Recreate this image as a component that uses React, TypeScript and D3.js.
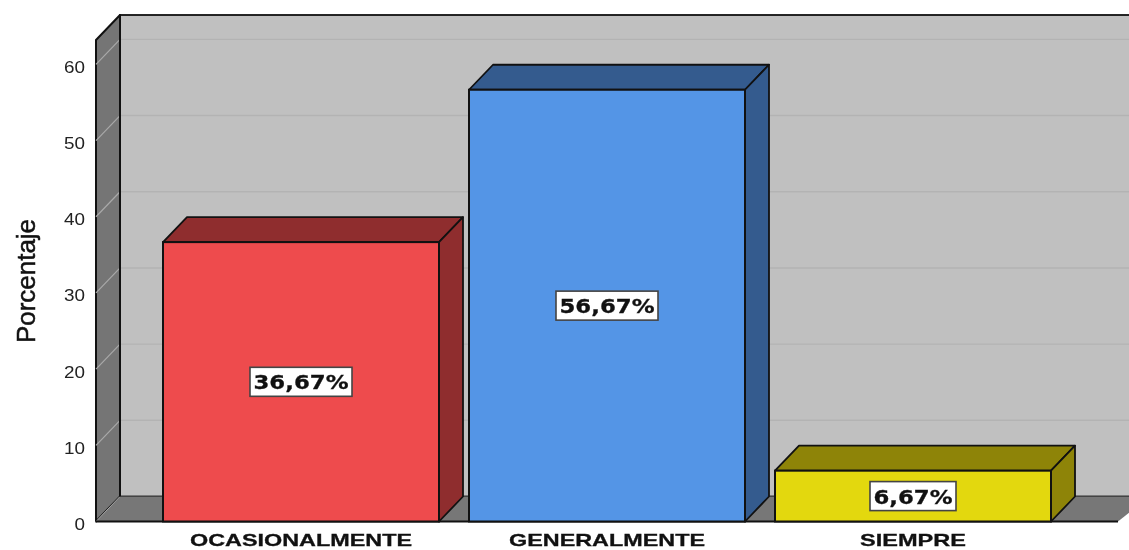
import React from "react";
import * as d3 from "d3";

const categories = ["OCASIONALMENTE", "GENERALMENTE", "SIEMPRE"];
const values = [36.67, 56.67, 6.67];
const valueLabels = ["36,67%", "56,67%", "6,67%"];
const frontColors = ["#ee4b4d", "#5495e6", "#e3d80e"];
const sideColors = ["#8f2d2e", "#345b8e", "#8e8408"];
const yTicks = [0, 10, 20, 30, 40, 50, 60];
const labelWidths = [222, 196, 106];
const boxWidths = [102, 102, 86];

const W = 1129;
const H = 550;
const DX = 24;
const DY = -25;
const left = 96;
const right = 1118;
const y = d3.scaleLinear().domain([0, 63.2]).range([521.5, 40]);
const x = d3.scaleBand<string>().domain(categories).range([163, 1051]).paddingInner(30 / 306).paddingOuter(0);
const stroke = "#111";

export default function App() {
  const y0 = y(0);
  const yTop = y.range()[1];
  return (
    <svg width={W} height={H} viewBox={`0 0 ${W} ${H}`} style={{ position: "absolute", left: 0, top: 0, filter: "blur(0.45px)", background: "#fff" }}>
      <rect x={left + DX} y={yTop + DY} width={W - left - DX + 20} height={y0 - yTop} fill="#c0c0c0" stroke={stroke} strokeWidth={1.8} />
      <polygon points={`${left},${yTop} ${left + DX},${yTop + DY} ${left + DX},${y0 + DY} ${left},${y0}`} fill="#757575" stroke={stroke} strokeWidth={2} strokeLinejoin="round" />
      <polygon points={`${left},${y0} ${left + DX},${y0 + DY} ${W + 20},${y0 + DY} ${right},${y0}`} fill="#777777" />
      <line x1={left} y1={y0} x2={left + DX} y2={y0 + DY} stroke="#a8a8a8" strokeWidth={1} />
      <line x1={left} y1={y0} x2={right} y2={y0} stroke={stroke} strokeWidth={1.8} />
      {yTicks.filter((t) => t > 0).map((t) => (
        <g key={t}>
          <line x1={left + DX} y1={y(t) + DY} x2={W} y2={y(t) + DY} stroke="#b3b3b3" strokeWidth={1.4} />
          <line x1={left} y1={y(t)} x2={left + DX} y2={y(t) + DY} stroke="#a9a9a9" strokeWidth={1.2} />
        </g>
      ))}
      <line x1={left + DX} y1={yTop + DY} x2={left + DX} y2={y0 + DY} stroke={stroke} strokeWidth={2} />
      {yTicks.map((t) => (
        <text key={t} x={85} y={y(t) + 8.5} textAnchor="end" fontFamily="Liberation Sans" fontSize={17} textLength={t === 0 ? 10.5 : 21} lengthAdjust="spacingAndGlyphs" fill="#222">{t}</text>
      ))}
      <text transform="translate(34.5,281) rotate(-90)" textAnchor="middle" fontFamily="Liberation Sans" fontSize={26} textLength={124} lengthAdjust="spacingAndGlyphs" fill="#111" stroke="#111" strokeWidth={0.5}>Porcentaje</text>
      {categories.map((c, i) => {
        const bx = x(c)!;
        const bw = x.bandwidth();
        const by = y(values[i]);
        const cx = bx + bw / 2;
        const my = y(values[i] / 2);
        return (
          <g key={c}>
            <polygon points={`${bx},${by} ${bx + DX},${by + DY} ${bx + bw + DX},${by + DY} ${bx + bw},${by}`} fill={sideColors[i]} stroke={stroke} strokeWidth={1.8} strokeLinejoin="round" />
            <polygon points={`${bx + bw},${by} ${bx + bw + DX},${by + DY} ${bx + bw + DX},${y0 + DY} ${bx + bw},${y0}`} fill={sideColors[i]} stroke={stroke} strokeWidth={1.8} strokeLinejoin="round" />
            <rect x={bx} y={by} width={bw} height={y0 - by} fill={frontColors[i]} stroke={stroke} strokeWidth={2} />
            <rect x={cx - boxWidths[i] / 2} y={my - 14.5} width={boxWidths[i]} height={29} fill="#fff" stroke="#444" strokeWidth={1.6} />
            <text x={cx} y={my + 7.5} textAnchor="middle" fontFamily="DejaVu Sans" fontWeight="bold" fontSize={20} textLength={boxWidths[i] - 7} lengthAdjust="spacingAndGlyphs" fill="#111" stroke="#111" strokeWidth={0.3}>{valueLabels[i]}</text>
            <text x={cx} y={546} textAnchor="middle" fontFamily="Liberation Sans" fontWeight="bold" fontSize={17} textLength={labelWidths[i]} lengthAdjust="spacingAndGlyphs" fill="#111" stroke="#111" strokeWidth={0.3}>{c}</text>
          </g>
        );
      })}
    </svg>
  );
}
